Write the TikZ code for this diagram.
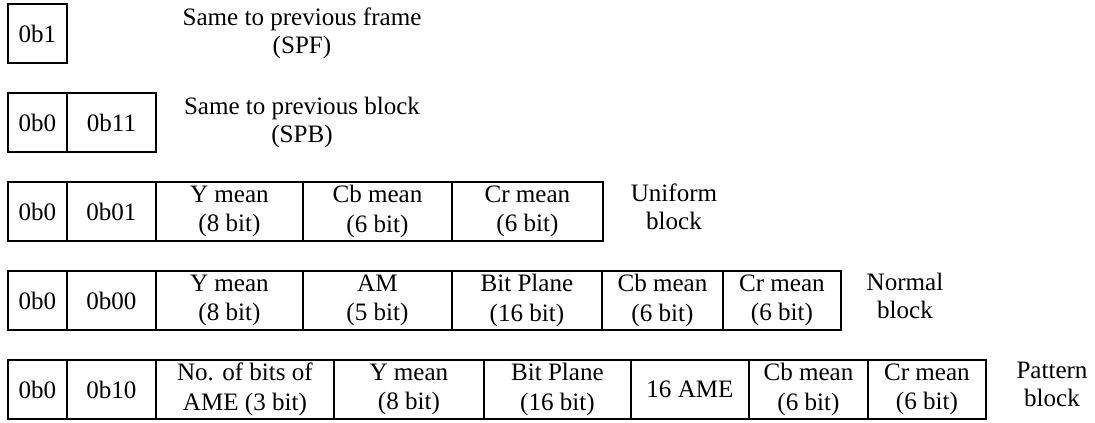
\documentclass[tikz,border=0pt]{standalone}
\usepackage{fontspec}
\setmainfont{Liberation Serif}
\begin{document}
\begin{tikzpicture}[x=0.75pt, y=-0.75pt,
    field/.style={draw, line width=1.4pt, anchor=north west, inner sep=0pt,
        minimum height=44.25pt, minimum width=#1*0.75pt, align=center,
        font=\fontsize{18.8}{22}\selectfont},
    note/.style={align=center, inner sep=0pt, font=\fontsize{18.8}{21}\selectfont}]
    \useasboundingbox (0,0) rectangle (1095,423);
    % same to previous frame
    \node[field=59] (spfflag) at (7,3) {0b1};
    \node[note] (spf) at (302,33) {Same to previous frame\\(SPF)};
    % same to previous block
    \node[field=59] (spbflag) at (7,92) {0b0};
    \node[field=89] (spbmode) at (66,92) {0b11};
    \node[note] (spb) at (302,122) {Same to previous block\\(SPB)};
    % uniform block
    \node[field=59] (uniflag) at (7,181) {0b0};
    \node[field=89] (unimode) at (66,181) {0b01};
    \node[field=147] (uniy) at (155,181) {Y mean\\(8 bit)};
    \node[field=149] (unicb) at (302,181) {Cb mean\\(6 bit)};
    \node[field=151] (unicr) at (451,181) {Cr mean\\(6 bit)};
    \node[note] (uni) at (674,207) {Uniform\\block};
    % normal block
    \node[field=59] (norflag) at (7,270) {0b0};
    \node[field=89] (normode) at (66,270) {0b00};
    \node[field=147] (nory) at (155,270) {Y mean\\(8 bit)};
    \node[field=149] (noram) at (302,270) {AM\\(5 bit)};
    \node[field=150] (norbp) at (451,270) {Bit Plane\\(16 bit)};
    \node[field=121] (norcb) at (601,270) {Cb mean\\(6 bit)};
    \node[field=118] (norcr) at (722,270) {Cr mean\\(6 bit)};
    \node[note] (nor) at (905,296) {Normal\\block};
    % pattern block
    \node[field=59] (patflag) at (7,359) {0b0};
    \node[field=89] (patmode) at (66,359) {0b10};
    \node[field=178] (patbits) at (155,359) {No. of bits of\\AME (3 bit)};
    \node[field=150] (paty) at (333,359) {Y mean\\(8 bit)};
    \node[field=147] (patbp) at (483,359) {Bit Plane\\(16 bit)};
    \node[field=118] (patame) at (630,359) {16 AME};
    \node[field=119] (patcb) at (748,359) {Cb mean\\(6 bit)};
    \node[field=118] (patcr) at (867,359) {Cr mean\\(6 bit)};
    \node[note] (pat) at (1052,384) {Pattern\\block};
\end{tikzpicture}
\end{document}
